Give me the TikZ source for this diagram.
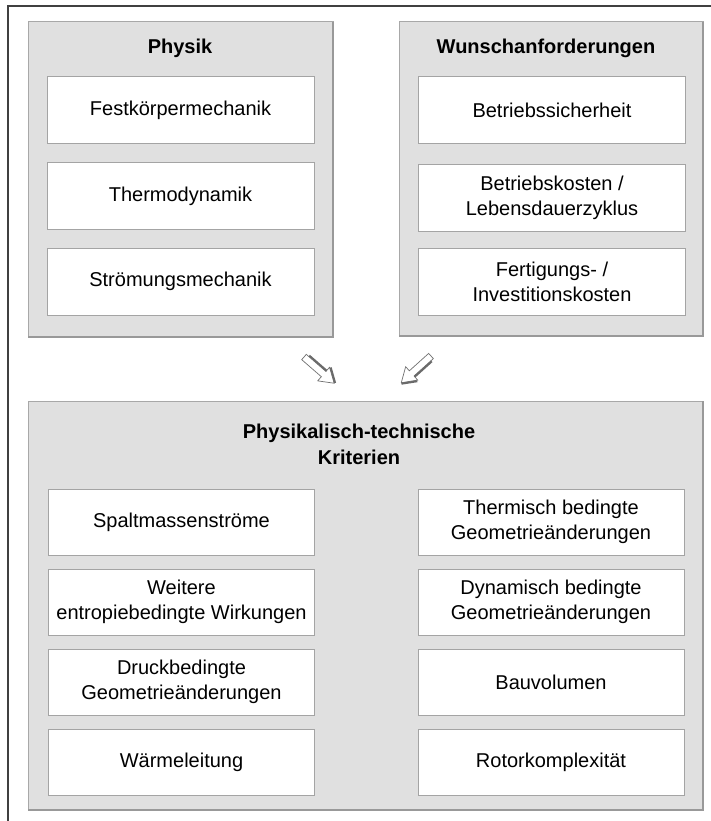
\documentclass[tikz,border=0pt]{standalone}
\usepackage{fontspec}
\setmainfont{Liberation Sans}
\begin{document}
\definecolor{panelfill}{HTML}{E0E0E0}
\definecolor{panelline}{HTML}{A8A8A8}
\definecolor{panelshade}{HTML}{999999}
\definecolor{boxline}{HTML}{A4A4A4}
\definecolor{frameline}{HTML}{404040}
\definecolor{arrowline}{HTML}{707070}
\definecolor{arrowshade}{HTML}{6A6A6A}
\begin{tikzpicture}[x=1pt,y=-1pt,
  panel/.style={fill=panelfill,draw=panelline,line width=1pt},
  itembox/.style={draw=boxline,fill=white,line width=1pt,rectangle,
    align=center,inner sep=0pt,font=\fontsize{20}{25}\selectfont},
  colA/.style={itembox,minimum width=267pt,minimum height=67pt},
  colB/.style={itembox,minimum width=266pt,minimum height=66pt},
  heading/.style={align=center,font=\fontsize{20}{26}\selectfont\bfseries},
  blockarrow/.style={fill=white,draw=arrowline,line width=0.7pt,line join=miter},
  arrowshadow/.style={draw=arrowshade,line width=2pt,line cap=butt}]
\useasboundingbox (0,0) rectangle (710,821);
\fill[white] (0,0) rectangle (710,821);

% outer frame (only top and left edges lie inside the page)
\draw[frameline,line width=1.5pt] (8,830) -- (8,6) -- (720,6);

% ---- panel: Physik ----
\path[panel] (28,22) rectangle (333,337);
\draw[panelshade,line width=1.5pt] (333,22) -- (333,337) -- (28,337);
\node[heading] (phys) at (180,48) {Physik};
\node[colA] (fkm) at (180.5,110.5) {Festkörpermechanik};
\node[colA] (thd) at (180.5,196) {Thermodynamik};
\node[colA] (stm) at (180.5,281.5) {Strömungsmechanik};

% ---- panel: Wunschanforderungen ----
\path[panel] (399,22) rectangle (703,336);
\draw[panelshade,line width=1.5pt] (703,22) -- (703,336) -- (399,336);
\node[heading] (wun) at (546,48) {Wunschanforderungen};
\node[colA] (bsi) at (552,110.5) {Betriebssicherheit};
\node[colA] (bko) at (552,198) {Betriebskosten /\\Lebensdauerzyklus};
\node[colA] (fik) at (552,281.5) {Fertigungs- /\\Investitionskosten};

% ---- block arrows ----
\coordinate (la) at (304,357);
\coordinate (ra) at (431,356);
\begin{scope}[shift={(la)},rotate=-41,x=1pt,y=1pt]
  \path[blockarrow] (0,3.5) -- (26,3.5) -- (26,9) -- (40,0) -- (26,-9)
    -- (26,-3.5) -- (0,-3.5) -- cycle;
  \draw[arrowshadow] (3,4.5) -- (26,4.5) (27,9.6) -- (40.5,0.8);
\end{scope}
\begin{scope}[shift={(ra)},rotate=222,x=1pt,y=1pt]
  \path[blockarrow] (0,3.5) -- (26,3.5) -- (26,9) -- (40,0) -- (26,-9)
    -- (26,-3.5) -- (0,-3.5) -- cycle;
  \draw[arrowshadow] (3,4.5) -- (26,4.5) (27,9.6) -- (40.5,0.8);
\end{scope}

% ---- panel: Physikalisch-technische Kriterien ----
\path[panel] (28,401) rectangle (703,810);
\draw[panelshade,line width=1.5pt] (703,401) -- (703,810) -- (28,810);
\node[heading] (ptk) at (359,444) {Physikalisch-technische\\Kriterien};

\node[colB] (sms) at (181.5,522) {Spaltmassenströme};
\node[colB] (wew) at (181.5,602) {Weitere\\entropiebedingte Wirkungen};
\node[colB] (dga) at (181.5,682) {Druckbedingte\\Geometrieänderungen};
\node[colB] (wle) at (181.5,762) {Wärmeleitung};

\node[colB] (tga) at (551,522) {Thermisch bedingte\\Geometrieänderungen};
\node[colB] (yga) at (551,602) {Dynamisch bedingte\\Geometrieänderungen};
\node[colB] (bvo) at (551,682) {Bauvolumen};
\node[colB] (rkx) at (551,762) {Rotorkomplexität};
\end{tikzpicture}
\end{document}
